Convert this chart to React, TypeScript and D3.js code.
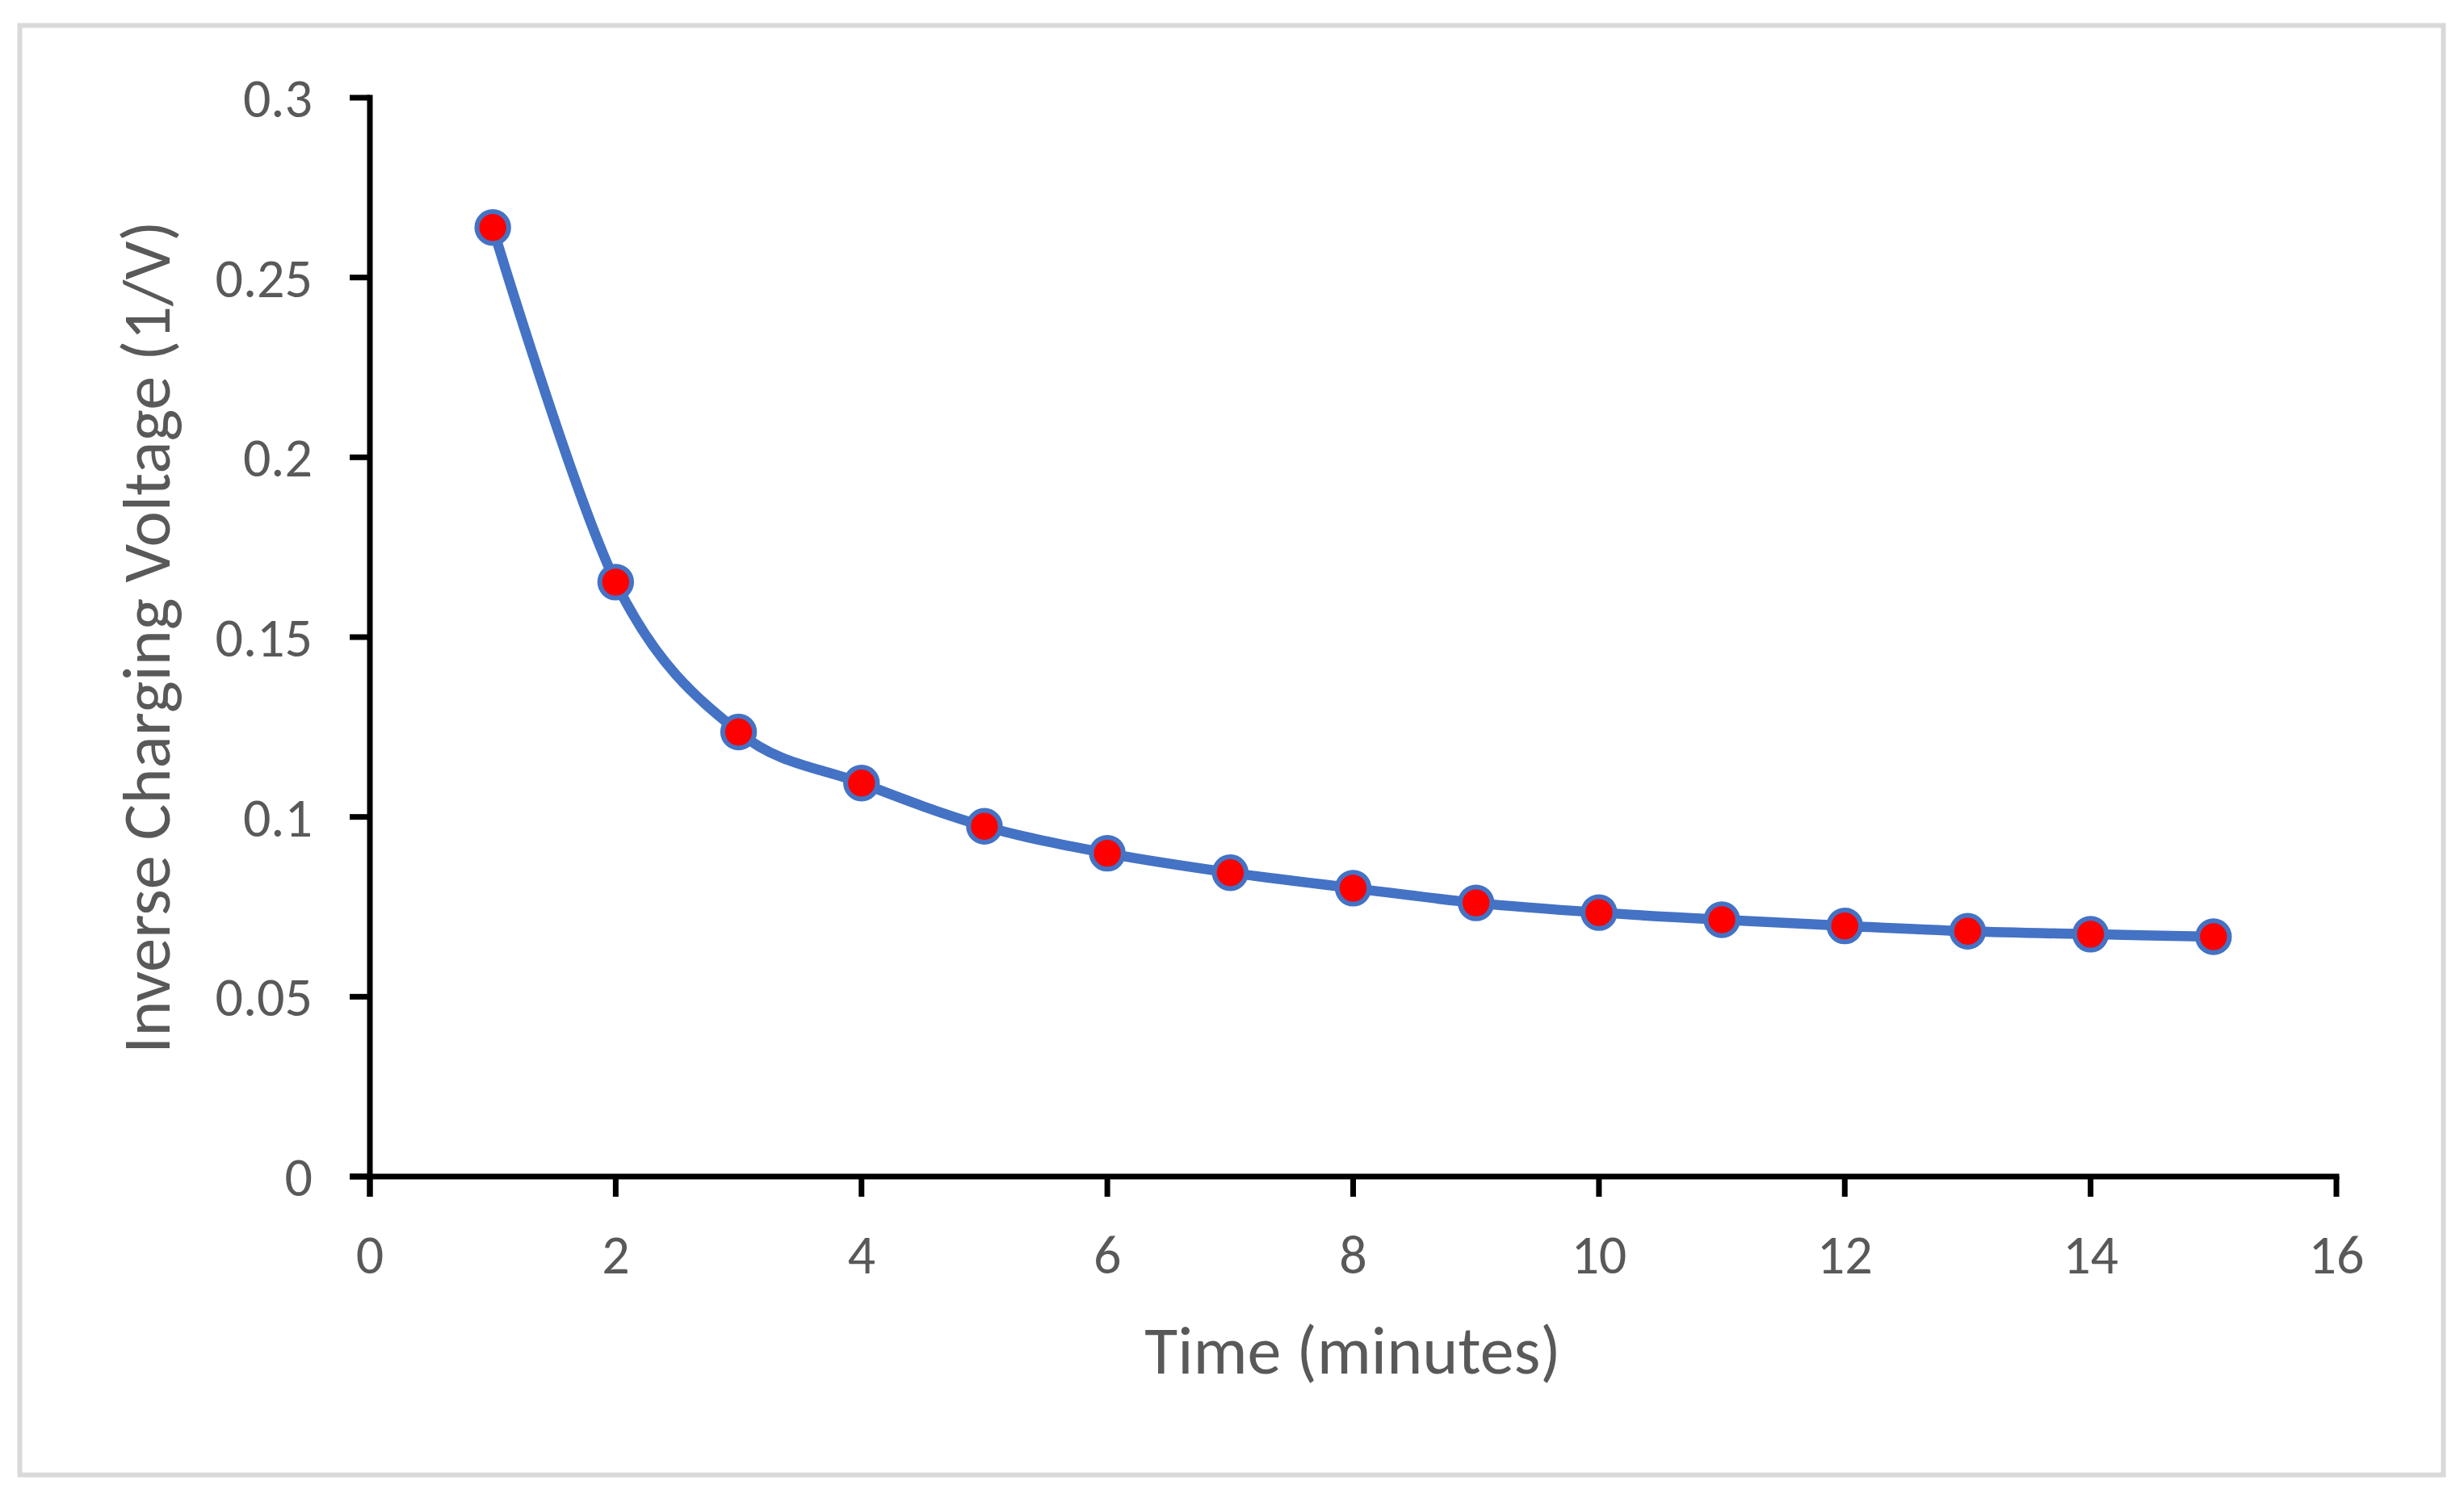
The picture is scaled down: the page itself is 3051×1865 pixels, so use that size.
import React from "react";
import * as d3 from "d3";

const times = [1, 2, 3, 4, 5, 6, 7, 8, 9, 10, 11, 12, 13, 14, 15];
const inverseVoltage = [
  0.2639, 0.1653, 0.1236, 0.1094, 0.0974, 0.0899, 0.0845, 0.0802, 0.0761,
  0.0734, 0.0714, 0.0697, 0.0682, 0.0674, 0.0667,
];
const xTicks = [0, 2, 4, 6, 8, 10, 12, 14, 16];
const yTicks = [0, 0.05, 0.1, 0.15, 0.2, 0.25, 0.3];
const xTitle = "Time (minutes)";
const yTitle = "Inverse Charging Voltage (1/V)";

const W = 3051;
const H = 1865;
const FONT = "Carlito, Lato, 'Open Sans', sans-serif";
const TEXT = "#595959";

export default function App() {
  const x = d3.scaleLinear().domain([0, 16]).range([458, 2893]);
  const y = d3.scaleLinear().domain([0, 0.3]).range([1457, 121]);
  const pts = times.map((t, i) => [t, inverseVoltage[i]] as [number, number]);
  const line = d3
    .line<[number, number]>()
    .x((d) => x(d[0]))
    .y((d) => y(d[1]))
    .curve(d3.curveCardinal.tension(0));
  const axisW = 7;
  const tickLen = 25;
  return (
    <svg
      width={W}
      height={H}
      style={{ position: "absolute", left: 0, top: 0, background: "#fff" }}
    >
      <rect x={0} y={0} width={W} height={H} fill="#fff" />
      <rect
        x={24.5}
        y={31.5}
        width={3001}
        height={1795}
        fill="#fff"
        stroke="#d9d9d9"
        strokeWidth={6}
      />
      <line
        x1={x(0)}
        x2={x(0)}
        y1={y(0.3) - axisW / 2}
        y2={y(0) + tickLen}
        stroke="#000"
        strokeWidth={axisW}
      />
      <line
        x1={x(0) - tickLen}
        x2={x(16) + axisW / 2}
        y1={y(0)}
        y2={y(0)}
        stroke="#000"
        strokeWidth={axisW}
      />
      {yTicks.map((v) => (
        <g key={"y" + v}>
          <line
            x1={x(0) - tickLen}
            x2={x(0)}
            y1={y(v)}
            y2={y(v)}
            stroke="#000"
            strokeWidth={axisW}
          />
          <text
            x={387}
            y={y(v) + 24}
            textAnchor="end"
            fontFamily={FONT}
            fontSize={68}
            fill={TEXT}
          >
            {String(v)}
          </text>
        </g>
      ))}
      {xTicks.map((t) => (
        <g key={"x" + t}>
          <line
            x1={x(t)}
            x2={x(t)}
            y1={y(0)}
            y2={y(0) + tickLen}
            stroke="#000"
            strokeWidth={axisW}
          />
          <text
            x={x(t)}
            y={1577}
            textAnchor="middle"
            fontFamily={FONT}
            fontSize={68}
            fill={TEXT}
          >
            {String(t)}
          </text>
        </g>
      ))}
      <text
        x={1675}
        y={1701}
        textAnchor="middle"
        fontFamily={FONT}
        fontSize={84}
        fill={TEXT}
      >
        {xTitle}
      </text>
      <text
        transform="translate(210,789) rotate(-90)"
        textAnchor="middle"
        fontFamily={FONT}
        fontSize={84}
        fill={TEXT}
      >
        {yTitle}
      </text>
      <path
        d={line(pts) || ""}
        fill="none"
        stroke="#4472C4"
        strokeWidth={12.5}
        strokeLinejoin="round"
      />
      {pts.map((d, i) => (
        <circle
          key={i}
          cx={x(d[0])}
          cy={y(d[1])}
          r={19.7}
          fill="#FF0000"
          stroke="#4472C4"
          strokeWidth={6}
        />
      ))}
    </svg>
  );
}
